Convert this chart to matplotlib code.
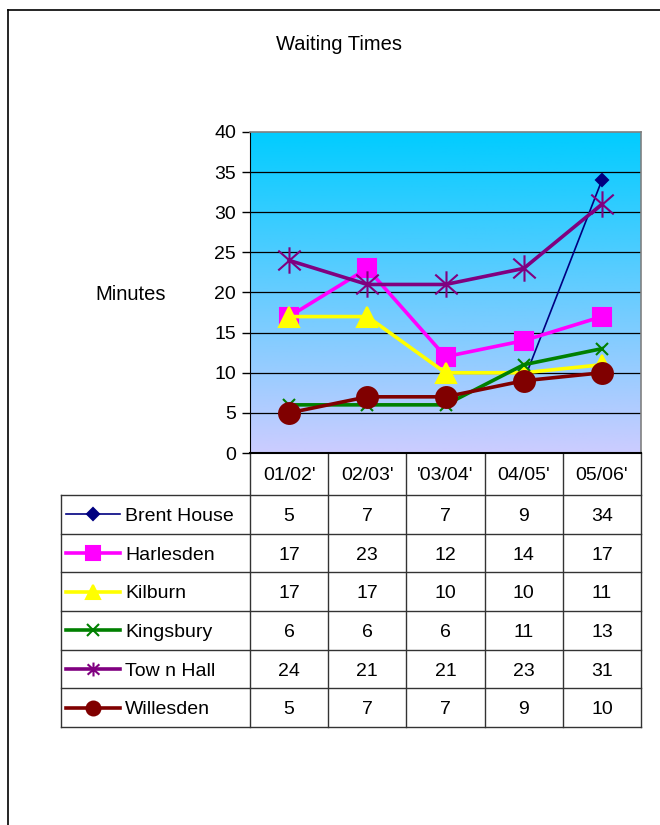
import numpy as np
import matplotlib.pyplot as plt
from matplotlib.lines import Line2D
from matplotlib.path import Path
from matplotlib.colors import LinearSegmentedColormap

plt.rcParams['font.family'] = ['Liberation Sans', 'DejaVu Sans']

# waiting times (minutes) per site and year
years = ["01/02'", "02/03'", "'03/04'", "04/05'", "05/06'"]
sites = ["Brent House", "Harlesden", "Kilburn", "Kingsbury", "Tow n Hall", "Willesden"]
brent_house = [5, 7, 7, 9, 34]
harlesden = [17, 23, 12, 14, 17]
kilburn = [17, 17, 10, 10, 11]
kingsbury = [6, 6, 6, 11, 13]
town_hall = [24, 21, 21, 23, 31]
willesden = [5, 7, 7, 9, 10]
series = [brent_house, harlesden, kilburn, kingsbury, town_hall, willesden]

# asterisk: an x with a vertical stroke through it
star = Path([(0, -1), (0, 1), (-0.85, -0.75), (0.85, 0.75), (-0.85, 0.75), (0.85, -0.75)],
            [Path.MOVETO, Path.LINETO] * 3)

# line styles: colour, marker, marker size, line width
styles = [
    ("#000080", "D", 6, 1.2),
    ("#FF00FF", "s", 13, 2.6),
    ("#FFFF00", "^", 14, 2.6),
    ("#008000", "x", 9, 2.6),
    ("#800080", star, 19, 2.6),
    ("#800000", "o", 15, 2.6),
]

W, H = 660, 825
FS = 14
fig = plt.figure(figsize=(6.6, 8.25), dpi=100)

# full-page axes in pixel coordinates for frame, table and labels
page = fig.add_axes([0, 0, 1, 1])
page.set_xlim(0, W)
page.set_ylim(H, 0)
page.axis("off")

# plot area box (pixels)
px0, px1, py0, py1 = 250, 641, 132, 453
ax = fig.add_axes([px0 / W, 1 - py1 / H, (px1 - px0) / W, (py1 - py0) / H])

grad = LinearSegmentedColormap.from_list("bg", ["#CCCCFF", "#00CCFF"])
ax.imshow(np.linspace(0, 1, 256).reshape(-1, 1), cmap=grad, origin="lower",
          extent=[-0.5, 4.5, 0, 40], aspect="auto", zorder=0)

for yv in range(5, 40, 5):
    ax.axhline(yv, color="black", lw=0.9, zorder=1)

x = np.arange(len(years))
for vals, (col, mk, ms, lw) in zip(series, styles):
    ax.plot(x, vals, color=col, lw=lw, marker=mk, markersize=ms,
            markeredgecolor=col, markerfacecolor=col,
            markeredgewidth=1.5, zorder=3, clip_on=False)

ax.set_xlim(-0.5, 4.5)
ax.set_ylim(0, 40)
ax.set_yticks(range(0, 41, 5))
ax.set_xticks([])
ax.tick_params(axis="y", direction="out", length=6, width=1, labelsize=FS, pad=4)
for s in ["top", "right"]:
    ax.spines[s].set_color("#808080")
    ax.spines[s].set_linewidth(1.2)
ax.spines["left"].set_color("black")
ax.spines["bottom"].set_color("black")
ax.spines["bottom"].set_linewidth(1.5)

# page frame
page.plot([8, W], [10, 10], color="black", lw=1.2)
page.plot([8, 8], [10, H], color="black", lw=1.2)

page.text(339, 45, "Waiting Times", ha="center", va="center", fontsize=FS + 0.5)
page.text(131, 295, "Minutes", ha="center", va="center", fontsize=FS + 0.5)

# data table under the plot
tx0 = 61
colw = (px1 - px0) / len(years)
col_edges = [px0 + colw * i for i in range(len(years) + 1)]
hdr_top, hdr_bot = py1, 495
row_edges = np.linspace(hdr_bot, 727, len(sites) + 1)
lc = "#333333"
dy = 2  # nudge text down to sit in the middle of each cell

# header cells (years)
for xe in col_edges:
    page.plot([xe, xe], [hdr_top, row_edges[-1]], color=lc, lw=1)
for i, yr in enumerate(years):
    page.text(px0 + colw * (i + 0.5), (hdr_top + hdr_bot) / 2 + dy, yr,
              ha="center", va="center", fontsize=FS)

# body rows
for ye in row_edges:
    page.plot([tx0, px1], [ye, ye], color=lc, lw=1)
page.plot([tx0, tx0], [row_edges[0], row_edges[-1]], color=lc, lw=1)

for r, (name, vals, (col, mk, ms, lw)) in enumerate(zip(sites, series, styles)):
    yc = (row_edges[r] + row_edges[r + 1]) / 2
    lw_leg = 1.2 if r == 0 else 2.6
    page.add_line(Line2D([66, 120], [yc, yc], color=col, lw=lw_leg))
    page.add_line(Line2D([93], [yc], color=col, marker=mk,
                         markersize=min(ms, 10), markerfacecolor=col,
                         markeredgecolor=col, markeredgewidth=1.5))
    page.text(125, yc + dy, name, ha="left", va="center", fontsize=FS)
    for i, v in enumerate(vals):
        page.text(px0 + colw * (i + 0.5), yc + dy, str(v),
                  ha="center", va="center", fontsize=FS)

fig.savefig("out.png", dpi=100)
